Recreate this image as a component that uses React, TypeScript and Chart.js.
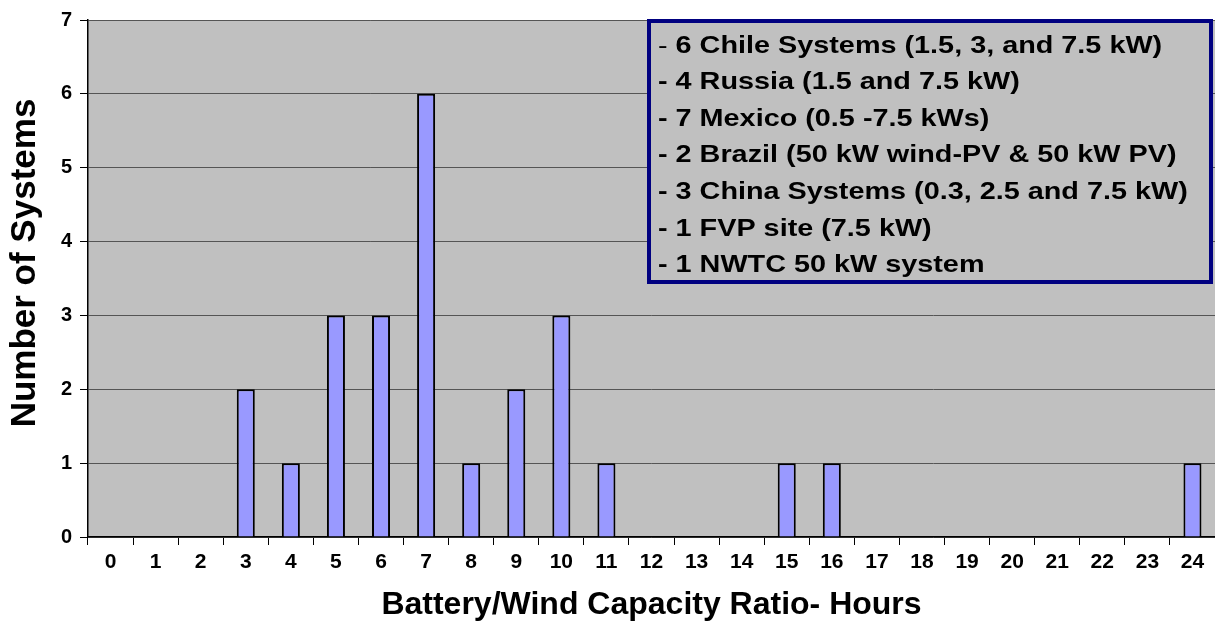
import React, { useEffect, useRef } from "react";
import { Chart, registerables } from "chart.js";

Chart.register(...registerables);

const categories: string[] = [
  "0", "1", "2", "3", "4", "5", "6", "7", "8", "9", "10", "11", "12",
  "13", "14", "15", "16", "17", "18", "19", "20", "21", "22", "23", "24",
];
const systemCounts: number[] = [
  0, 0, 0, 2, 1, 3, 3, 6, 1, 2, 3, 1, 0, 0, 0, 1, 1, 0, 0, 0, 0, 0, 0, 0, 1,
];
const yTickValues: number[] = [0, 1, 2, 3, 4, 5, 6, 7];
const yTitle = "Number of Systems";
const xTitle = "Battery/Wind Capacity Ratio- Hours";
const noteLines: string[] = [
  " 6 Chile Systems (1.5, 3, and 7.5 kW)",
  "- 4 Russia (1.5 and 7.5 kW)",
  "- 7 Mexico (0.5 -7.5 kWs)",
  "- 2 Brazil (50 kW wind-PV & 50 kW PV)",
  "- 3 China Systems (0.3, 2.5 and 7.5 kW)",
  "- 1 FVP site (7.5 kW)",
  "- 1 NWTC 50 kW system",
];

const FONT = '"Liberation Sans", Arial, sans-serif';

const plotBg = {
  id: "plotBg",
  beforeDraw(chart: any) {
    const { ctx, chartArea } = chart;
    ctx.save();
    ctx.fillStyle = "#C0C0C0";
    ctx.fillRect(chartArea.left, chartArea.top, chartArea.right - chartArea.left, chartArea.bottom - chartArea.top);
    ctx.restore();
  },
};

const yTitlePlugin = {
  id: "yTitlePlugin",
  afterDraw(chart: any) {
    const { ctx, chartArea } = chart;
    ctx.save();
    ctx.translate(25, chartArea.top + 243);
    ctx.rotate(-Math.PI / 2);
    ctx.font = `bold 35px ${FONT}`;
    ctx.fillStyle = "#000";
    ctx.textAlign = "center";
    ctx.textBaseline = "middle";
    ctx.fillText(yTitle, 0, 0);
    ctx.restore();
  },
};

const notesBox = {
  id: "notesBox",
  afterDatasetsDraw(chart: any) {
    const { ctx, chartArea } = chart;
    const x0 = chartArea.left + 561;
    const y0 = chartArea.top + 1;
    const w = 562;
    const h = 261;
    ctx.save();
    ctx.fillStyle = "#C0C0C0";
    ctx.fillRect(x0, y0, w, h);
    ctx.lineWidth = 4;
    ctx.strokeStyle = "#000080";
    ctx.strokeRect(x0, y0, w, h);
    ctx.fillStyle = "#000";
    ctx.textBaseline = "middle";
    ctx.textAlign = "left";
    const sx = 1.2;
    noteLines.forEach((line, i) => {
      const y = y0 + 25 + i * 36.6;
      ctx.save();
      ctx.translate(x0 + 9, y);
      ctx.scale(sx, 1);
      if (i === 0) {
        ctx.font = `24px ${FONT}`;
        ctx.fillText("-", 0, 0);
        const dw = ctx.measureText("-").width;
        ctx.font = `bold 24px ${FONT}`;
        ctx.fillText(line, dw, 0);
      } else {
        ctx.font = `bold 24px ${FONT}`;
        ctx.fillText(line, 0, 0);
      }
      ctx.restore();
    });
    ctx.restore();
  },
};

export default function App() {
  const ref = useRef<HTMLCanvasElement | null>(null);
  useEffect(() => {
    if (!ref.current) return;
    const chart = new Chart(ref.current, {
      type: "bar",
      data: {
        labels: categories,
        datasets: [
          {
            data: systemCounts,
            backgroundColor: "#9999FF",
            borderColor: "#000000",
            borderWidth: 2,
            barPercentage: 0.4,
            categoryPercentage: 1.0,
          },
        ],
      },
      options: {
        animation: false,
        responsive: false,
        maintainAspectRatio: false,
        layout: { padding: { top: 18, left: 0, right: 0, bottom: 0 } },
        plugins: { legend: { display: false }, tooltip: { enabled: false } },
        scales: {
          x: {
            offset: true,
            grid: {
              offset: true,
              drawOnChartArea: false,
              drawTicks: true,
              tickLength: 8,
              tickColor: "#000",
              lineWidth: 1,
            },
            border: { display: true, color: "#000", width: 1.5 },
            ticks: {
              color: "#000",
              font: { family: FONT, size: 21, weight: "bold" },
              padding: 5,
              maxRotation: 0,
              autoSkip: false,
            },
            title: {
              display: true,
              text: xTitle,
              color: "#000",
              font: { family: FONT, size: 32, weight: "bold" },
              padding: { top: 0, bottom: 2 },
            },
            afterFit(scale: any) {
              scale.height = 89;
            },
          },
          y: {
            min: 0,
            max: 7,
            afterBuildTicks(scale: any) {
              scale.ticks = yTickValues.map((v) => ({ value: v }));
            },
            grid: {
              color: "#555555",
              lineWidth: 1,
              drawTicks: true,
              tickLength: 8,
              tickColor: "#000",
            },
            border: { display: true, color: "#000", width: 1.5 },
            ticks: {
              color: "#000",
              font: { family: FONT, size: 20, weight: "bold" },
              padding: 8,
            },
            title: { display: false },
            afterFit(scale: any) {
              scale.width = 88;
            },
          },
        },
      },
      plugins: [plotBg, notesBox, yTitlePlugin],
    });
    return () => chart.destroy();
  }, []);
  return (
    <div style={{ position: "fixed", left: 0, top: 0, width: 1215, height: 626, background: "#fff" }}>
      <canvas ref={ref} width={1215} height={626} style={{ width: 1215, height: 626, display: "block" }} />
    </div>
  );
}
